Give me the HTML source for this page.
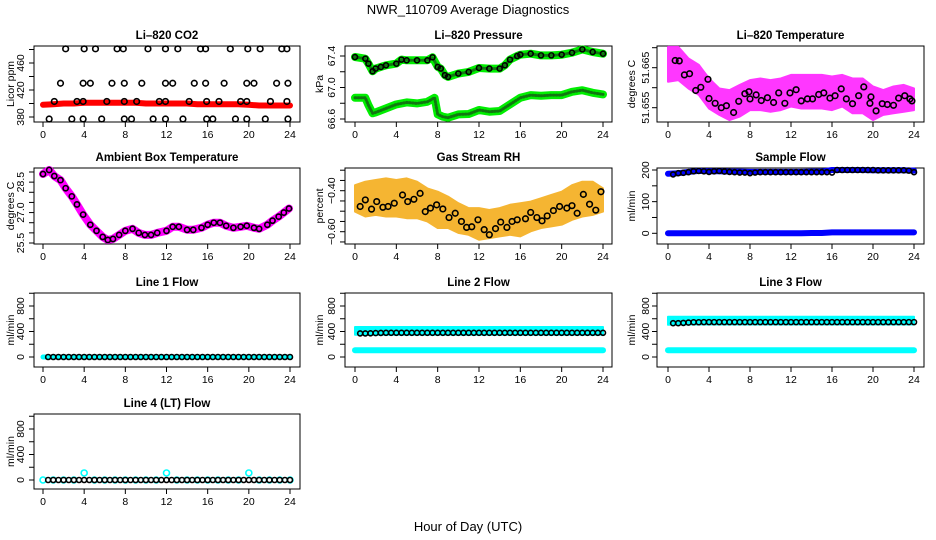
<!DOCTYPE html>
<html><head><meta charset="utf-8">
<style>
html,body{margin:0;padding:0;background:#fff;}
svg{display:block;font-family:"Liberation Sans",Arial,sans-serif;}
</style></head>
<body>
<svg id="chart" width="936" height="540" viewBox="0 0 936 540" xmlns="http://www.w3.org/2000/svg">
<rect x="0" y="0" width="936" height="540" fill="#fff"/>
<text x="468" y="14" text-anchor="middle" font-size="13">NWR_110709  Average Diagnostics</text>
<text x="468" y="531" text-anchor="middle" font-size="13">Hour of Day (UTC)</text>
</svg>
<script>
// ---------- data ----------
const co2Hours = [2.2,4.0,5.1,7.2,7.8,10.2,11.9,13.1,15.3,15.8,18.2,19.9,21.1,23.2,23.7,
 1.7,3.9,4.6,6.7,7.9,9.6,11.9,12.6,14.7,15.8,17.6,19.8,20.5,22.7,23.8,
 1.1,3.3,3.9,6.2,7.9,9.1,11.3,11.9,14.2,15.9,17.1,19.2,19.8,22.1,23.7,
 0.6,2.8,3.9,5.7,7.9,8.6,10.7,11.9,13.6,15.9,16.5,18.7,19.8,21.6,23.8];
const co2Vals = [481,481,481,481,481,481,481,481,481,481,481,481,481,481,481,
 430,430,430,430,430,430,430,430,430,430,430,430,430,430,430,
 403,403,403,403,403,403,403,403,403,403,403,403,403,403,403,
 377,377,377,377,377,377,377,377,377,377,377,377,377,377,377];
const hourly = [0,1,2,3,4,5,6,7,8,9,10,11,12,13,14,15,16,17,18,19,20,21,22,23,24];
const co2Red = [398,399,400,400,401,401,401,401,401,401,400,400,400,400,400,399,399,399,399,399,398,397,397,397,397];

const pUpHours = [0,1,1.3,1.7,2,2.5,3,4,4.5,5,6,7,7.5,8,8.3,8.7,9,10,11,12,13,14,14.5,15,15.7,16,17,18,19,20,21,22,23,24];
const pUpVals = [67.387,67.366,67.303,67.206,67.240,67.261,67.282,67.303,67.354,67.345,67.345,67.345,67.383,67.261,67.240,67.156,67.135,67.177,67.198,67.248,67.240,67.240,67.282,67.354,67.400,67.417,67.429,67.408,67.408,67.417,67.442,67.484,67.451,67.429];
const pLoHours = [0,1,1.3,1.7,2,3,4,5,6,7,7.7,8,8.5,9,10,11,12,13,14,15,16,17,18,19,20,21,22,23,24];
const pLoVals = [66.869,66.869,66.777,66.672,66.684,66.735,66.785,66.811,66.798,66.819,66.869,66.659,66.629,66.617,66.659,66.663,66.714,66.693,66.701,66.785,66.869,66.903,66.895,66.903,66.903,66.945,66.966,66.933,66.912];

const tHi = [51.6702,51.6702,51.6673,51.6657,51.6623,51.6598,51.6594,51.6607,51.6619,51.6623,51.6619,51.6623,51.6632,51.6632,51.6632,51.6632,51.6628,51.6632,51.6623,51.6623,51.6603,51.6594,51.6603,51.6607,51.6598];
const tLo = [51.6615,51.6619,51.6598,51.6582,51.6548,51.6532,51.6519,51.6528,51.6544,51.6544,51.6540,51.6544,51.6553,51.6548,51.6548,51.6548,51.6544,51.6553,51.6536,51.6536,51.6519,51.6532,51.6536,51.6540,51.6544];
const tMeanHours = [0.7,1.1,1.6,2.1,2.7,3.2,3.9,4.0,4.6,5.2,5.7,6.4,6.9,7.5,7.9,8.0,8.6,9.1,9.7,10.3,10.8,11.4,11.9,12.5,13.0,13.6,14.1,14.7,15.2,15.8,16.3,16.9,17.4,18.0,18.6,19.1,19.7,19.8,20.3,20.9,21.4,22.0,22.5,23.1,23.6,23.8];
const tMeanVals = [51.6668,51.6667,51.6632,51.6635,51.6593,51.6601,51.6621,51.6573,51.6561,51.6550,51.6555,51.6538,51.6566,51.6585,51.6590,51.6572,51.6582,51.6568,51.6575,51.6563,51.6587,51.6561,51.6587,51.6595,51.6567,51.6572,51.6572,51.6583,51.6587,51.6574,51.6580,51.6597,51.6572,51.6560,51.6580,51.6602,51.6561,51.6577,51.6542,51.6560,51.6558,51.6556,51.6574,51.6580,51.6572,51.6567];

const ambHours = [0,0.6,1.1,1.7,2.2,2.8,3.3,3.9,4.6,5.2,5.8,6.3,6.8,7.4,8,8.7,9.3,9.9,10.5,11.1,12,12.6,13.2,14,14.6,15.4,16,16.6,17.2,17.8,18.5,19.2,19.8,20.5,21,21.8,22.3,22.9,23.4,23.9];
const ambVals = [28.9,29.1,28.8,28.6,28.2,27.8,27.4,26.9,26.4,26.1,25.8,25.65,25.7,25.9,26.1,26.2,26.0,25.9,25.9,26.0,26.1,26.3,26.3,26.15,26.15,26.25,26.4,26.5,26.5,26.35,26.25,26.3,26.35,26.25,26.2,26.4,26.6,26.8,27.0,27.2];

const rhHi = [-0.373,-0.356,-0.348,-0.340,-0.348,-0.340,-0.356,-0.389,-0.405,-0.429,-0.461,-0.485,-0.485,-0.494,-0.485,-0.469,-0.461,-0.453,-0.437,-0.421,-0.405,-0.373,-0.356,-0.356,-0.389];
const rhLo = [-0.502,-0.526,-0.518,-0.526,-0.526,-0.534,-0.534,-0.550,-0.582,-0.582,-0.606,-0.615,-0.639,-0.631,-0.623,-0.615,-0.623,-0.598,-0.582,-0.574,-0.566,-0.542,-0.526,-0.518,-0.502];
const rhHours = [0.5,1.0,1.6,2.1,2.7,3.2,3.8,4.6,5.1,5.7,6.3,6.8,7.3,7.9,8.5,9.1,9.7,10.3,10.8,11.3,11.9,12.5,13.0,13.6,14.1,14.7,15.2,15.7,16.5,17.0,17.6,18.1,18.6,19.2,19.8,20.5,21.0,21.5,22.1,22.7,23.3,23.8];
const rhVals = [-0.477,-0.445,-0.490,-0.453,-0.481,-0.477,-0.461,-0.421,-0.453,-0.442,-0.413,-0.502,-0.485,-0.469,-0.489,-0.531,-0.510,-0.550,-0.579,-0.576,-0.542,-0.590,-0.615,-0.585,-0.553,-0.579,-0.550,-0.542,-0.537,-0.506,-0.531,-0.547,-0.523,-0.497,-0.477,-0.485,-0.473,-0.510,-0.418,-0.466,-0.495,-0.405];

const sfUpper = [188,190,194,197,196,196,195,195,194,194,194,194,194,194,195,195,200,200,200,200,199,199,199,199,198];
const sfLower = [0,0,0,0,0,0,0,0,0,0,0,0,0,0,1,1,3,3,3,3,3,3,3,3,3];
const sfBlack = [186,190,191,193,196,197,196,194,196,197,195,194,193,192,192,190,192,193,193,193,193,193,193,193,193,193,193,193,193,193,193,192,200,200,200,200,200,200,200,200,199,199,199,199,199,199,198,193];

const l1Cyan = [0,0,0,0,0,0,0,0,0,0,0,0,0,0,0,0,0,0,0,0,0,0,0,0,0];
const l1Black = [0,0,0,0,0,0,0,0,0,0,0,0,0,0,0,0,0,0,0,0,0,0,0,0,0,0,0,0,0,0,0,0,0,0,0,0,0,0,0,0,0,0,0,0,0,0,0,0];
const l2Hi = [470,470,470,470,470,470,470,470,470,470,470,470,470,470,470,470,470,470,470,470,470,470,470,470,470];
const l2Lo = [350,350,350,350,350,350,350,350,350,350,350,350,350,350,350,350,350,350,350,350,350,350,350,350,350];
const l2Low = [105,105,105,105,105,105,105,105,105,105,105,105,105,105,105,105,105,105,105,105,105,105,105,105,105];
const l2Black = [370,370,372,375,378,380,380,380,380,380,380,380,380,380,380,380,380,380,380,380,380,380,380,380,380,380,380,380,380,380,380,380,380,380,380,380,380,380,380,380,380,380,380,380,380,380,380,380];
const l3Hi = [630,630,630,630,630,630,630,630,630,630,630,630,630,630,630,630,630,630,630,630,630,630,630,630,630];
const l3Lo = [505,510,510,510,510,510,510,510,510,510,510,510,510,510,510,510,510,510,510,510,510,510,510,510,510];
const l3Low = [105,105,105,105,105,105,105,105,105,105,105,105,105,105,105,105,105,105,105,105,105,105,105,105,105];
const l3Black = [530,530,535,540,545,545,547,547,547,547,547,547,547,547,547,547,547,547,547,547,547,547,547,547,547,547,547,547,547,547,547,547,547,547,547,547,547,547,547,547,547,547,547,547,547,547,547,547];
const l4Cyan = [0,0,0,0,110,0,0,0,0,0,0,0,110,0,0,0,0,0,0,0,110,0,0,0,0];
const l4Black = [0,0,0,0,0,0,0,0,0,0,0,0,0,0,0,0,0,0,0,0,0,0,0,0,0,0,0,0,0,0,0,0,0,0,0,0,0,0,0,0,0,0,0,0,0,0,0,0];
const halfHours = [0.5,1,1.5,2,2.5,3,3.5,4,4.5,5,5.5,6,6.5,7,7.5,8,8.5,9,9.5,10,10.5,11,11.5,12,12.5,13,13.5,14,14.5,15,15.5,16,16.5,17,17.5,18,18.5,19,19.5,20,20.5,21,21.5,22,22.5,23,23.5,24];
const xTicks = [0,4,8,12,16,20,24];

// ---------- layout ----------
const NS = 'http://www.w3.org/2000/svg';
const svg = document.getElementById('chart');
const cols = [{bl:34,br:300,x0:43,x24:290,yl:20,yt:10},{bl:345,br:612,x0:355,x24:603,yl:331,yt:319},{bl:657,br:924,x0:668,x24:914,yl:645,yt:631}];
const rows = [{bt:46,bb:122},{bt:168,bb:244},{bt:293,bb:367},{bt:414,bb:489}];

function mk(tag, attrs, parent){
  const el = document.createElementNS(NS, tag);
  for (const k in attrs) el.setAttribute(k, attrs[k]);
  (parent||svg).appendChild(el);
  return el;
}

function makePanel(c, r, name, title, ylab, ticks, labels, v1, p1, v2, p2){
  const col = cols[c], row = rows[r];
  const g = mk('g', {});
  
  
  const P = {g, col, row,
    x: h => col.x0 + (col.x24 - col.x0) * h / 24,
    y: v => p1 + (p2 - p1) * (v - v1) / (v2 - v1)};
  const t = mk('text', {x:(col.bl+col.br)/2, y:row.bt-7, 'text-anchor':'middle', 'font-size':'11.5', 'font-weight':'bold'}, g);
  
  
  t.textContent = title;
  const box = mk('rect', {x:col.bl, y:row.bt, width:col.br-col.bl, height:row.bb-row.bt, fill:'none', stroke:'#000', 'stroke-width':'1'}, g);
  
  
  const xa = mk('g', {}, g);
  
  
  xTicks.forEach(h => {
    mk('line', {x1:P.x(h), x2:P.x(h), y1:row.bb, y2:row.bb+5, stroke:'#000'}, xa);
    const tl = mk('text', {x:P.x(h), y:row.bb+16, 'text-anchor':'middle', 'font-size':'10.5'}, xa);
    
    
    tl.textContent = h;
  });
  const ya = mk('g', {}, g);
  
  
  ticks.forEach((v, i) => {
    const yy = P.y(v);
    mk('line', {x1:col.bl-5, x2:col.bl, y1:yy, y2:yy, stroke:'#000'}, ya);
    if (labels[i]) {
      const tl = mk('text', {x:0, y:0, 'text-anchor':'middle', 'font-size':'10.5', transform:`translate(${col.yl+4},${yy}) rotate(-90)`}, ya);
      
      
      tl.textContent = labels[i];
    }
  });
  const yt = mk('text', {x:0, y:0, 'text-anchor':'middle', 'font-size':'10.5', transform:`translate(${col.yt+4},${(row.bt+row.bb)/2}) rotate(-90)`}, g);
  
  
  yt.textContent = ylab;
  return P;
}

function line(P, hs, vs, color, w, nm, dash){
  const d = hs.map((h,i)=>(i?'L':'M')+P.x(h).toFixed(1)+','+P.y(vs[i]).toFixed(1)).join(' ');
  const a = {d, fill:'none', stroke:color, 'stroke-width':w, 'stroke-linejoin':'round', 'stroke-linecap':'round'};
  if (dash) a['stroke-dasharray'] = dash;
  const el = mk('path', a, P.g);
  
  
}
function band(P, hs, lo, hi, color, nm, op){
  const top = hs.map((h,i)=>P.x(h).toFixed(1)+','+P.y(hi[i]).toFixed(1));
  const bot = hs.map((h,i)=>P.x(h).toFixed(1)+','+P.y(lo[i]).toFixed(1)).reverse();
  const el = mk('polygon', {points: top.concat(bot).join(' '), fill:color, stroke:color, 'stroke-width':'2', 'stroke-linejoin':'round', opacity: op||1}, P.g);
  
  
}
function circles(P, hs, vs, color, nm, r){
  const g = mk('g', {}, P.g);
  
  
  hs.forEach((h,i)=>{
    const c = mk('circle', {cx:P.x(h), cy:P.y(vs[i]), r:r||2.8, fill:'none', stroke:color, 'stroke-width':'1.6'}, g);
    
    
  });
}

// Li-820 CO2
let P = makePanel(0,0,'co2','Li\u2013820 CO2','Licor ppm',[380,400,420,440,460,480],['380','','420','','460',''],380,117,460,63);
line(P, hourly, co2Red, '#ff0000', 6, 'co2-red-series');
circles(P, co2Hours, co2Vals, '#000', 'co2-black-points');

// Pressure
P = makePanel(1,0,'pressure','Li\u2013820 Pressure','kPa',[66.6,66.8,67.0,67.2,67.4],['66.6','','67.0','','67.4'],67.4,56,66.6,119);
line(P, pUpHours, pUpVals, '#00ee00', 8, 'pressure-upper-green');
line(P, pLoHours, pLoVals, '#00ee00', 8, 'pressure-lower-green');
line(P, pUpHours, pUpVals, '#117711', 3, 'pressure-upper-dots', '1 2');
line(P, pLoHours, pLoVals, '#117711', 3, 'pressure-lower-dots', '1 2');
circles(P, pUpHours, pUpVals, '#000', 'pressure-black-points', 2.5);

// Temperature
P = makePanel(2,0,'li820-temp','Li\u2013820 Temperature','degrees C',[51.655,51.66,51.665,51.67],['51.655','','51.665',''],51.665,67.7,51.655,107.7);
band(P, hourly, tLo, tHi, '#ff22ff', 'temp-magenta-cloud', 0.9);
circles(P, tMeanHours, tMeanVals, '#000', 'temp-black-points');

// Ambient
P = makePanel(0,1,'ambient','Ambient Box Temperature','degrees C',[25.5,26,26.5,27,27.5,28,28.5,29],['25.5','','','27.0','','','28.5',''],25.5,243,29,172);
line(P, ambHours, ambVals, '#ff00ff', 8, 'ambient-magenta-line');
circles(P, ambHours, ambVals, '#000', 'ambient-black-points', 2.6);

// Gas stream RH
P = makePanel(1,1,'rh','Gas Stream RH','percent',[-0.65,-0.6,-0.55,-0.5,-0.45,-0.4,-0.35,-0.3],['','\u22120.60','','','','\u22120.40','',''],-0.4,190.7,-0.6,231.7);
band(P, hourly, rhLo, rhHi, '#f4ae1c', 'rh-orange-cloud', 0.9);
circles(P, rhHours, rhVals, '#000', 'rh-black-points');

// Sample flow
P = makePanel(2,1,'sample-flow','Sample Flow','ml/min',[0,50,100,150,200],['0','','100','','200'],0,233.3,200,170);
line(P, hourly, sfUpper, '#0000ff', 6, 'sample-flow-upper-blue');
line(P, hourly, sfLower, '#0000ff', 6, 'sample-flow-lower-blue');
circles(P, halfHours, sfBlack, '#000', 'sample-flow-black-points', 2.5);

// Line flows
const lt = [0,200,400,600,800,1000], ll = ['0','','400','','800',''];
P = makePanel(0,2,'line1','Line 1 Flow','ml/min',lt,ll,0,357,800,306);
line(P, hourly, l1Cyan, '#00ffff', 5, 'line1-cyan');
circles(P, halfHours, l1Black, '#000', 'line1-black-points', 2.5);

P = makePanel(1,2,'line2','Line 2 Flow','ml/min',lt,ll,0,357,800,306);
band(P, hourly, l2Lo, l2Hi, '#00ffff', 'line2-cyan-upper');
line(P, hourly, l2Low, '#00ffff', 6, 'line2-cyan-lower');
circles(P, halfHours, l2Black, '#000', 'line2-black-points', 2.5);

P = makePanel(2,2,'line3','Line 3 Flow','ml/min',lt,ll,0,357,800,306);
band(P, hourly, l3Lo, l3Hi, '#00ffff', 'line3-cyan-upper');
line(P, hourly, l3Low, '#00ffff', 6, 'line3-cyan-lower');
circles(P, halfHours, l3Black, '#000', 'line3-black-points', 2.5);

P = makePanel(0,3,'line4','Line 4 (LT) Flow','ml/min',lt,ll,0,480,800,429);
circles(P, hourly, l4Cyan, '#00ffff', 'line4-cyan-points', 3);
circles(P, halfHours, l4Black, '#000', 'line4-black-points', 2.5);
</script>
</body></html>
